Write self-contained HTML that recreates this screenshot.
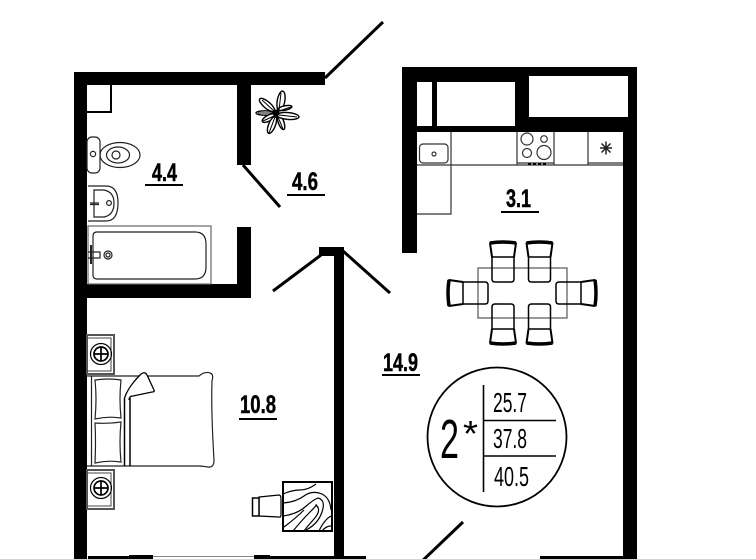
<!DOCTYPE html>
<html><head><meta charset="utf-8"><style>
html,body{margin:0;padding:0;background:#fff;width:756px;height:559px;overflow:hidden}
svg{display:block}
text{font-family:"Liberation Sans",sans-serif;fill:#000}
.b{font-weight:bold;font-size:25px;stroke:#000;stroke-width:.5px}
.n{font-size:28px}
</style></head><body>
<svg width="756" height="559" viewBox="0 0 756 559" xmlns="http://www.w3.org/2000/svg">
<!-- walls -->
<g fill="#000">
<rect x="74" y="72" width="251" height="13"/>
<rect x="74" y="72" width="13" height="487"/>
<rect x="237" y="85" width="14" height="80"/>
<rect x="237" y="227" width="14" height="71"/>
<rect x="87" y="284" width="164" height="14"/>
<rect x="319" y="247" width="25" height="9"/>
<rect x="334" y="247" width="10" height="312"/>
<rect x="402" y="67" width="235" height="65"/>
<rect x="402" y="67" width="15" height="186"/>
<rect x="623" y="67" width="14" height="492"/>
<rect x="88" y="556" width="65" height="3"/>
<rect x="129" y="555" width="24" height="4"/>
<rect x="254" y="555" width="16" height="4"/>
<rect x="254" y="556" width="112" height="3"/>
<rect x="540" y="556" width="97" height="3"/>
</g>
<rect x="153" y="556" width="101" height="1" fill="#888"/>
<g fill="#fff">
<rect x="417" y="82" width="15" height="44"/>
<rect x="437" y="82" width="78" height="44"/>
<rect x="529" y="76" width="99" height="41"/>
</g>
<!-- doors -->
<g stroke="#000" stroke-width="3" fill="none">
<line x1="325" y1="78" x2="383" y2="22"/>
<line x1="243" y1="165" x2="280" y2="207"/>
<line x1="273" y1="291" x2="321" y2="255"/>
<line x1="343" y1="251" x2="390" y2="293"/>
<line x1="463" y1="522" x2="418" y2="565"/>
</g>
<!-- bathroom -->
<path d="M87 112H111V85" fill="none" stroke="#000" stroke-width="2"/>
<g fill="none" stroke="#222" stroke-width="1.200">
<rect x="87" y="137" width="13" height="36" rx="5"/>
<circle cx="93" cy="154" r="2.600"/>
<ellipse cx="120" cy="155" rx="20" ry="12.500"/>
<ellipse cx="118" cy="155" rx="11.500" ry="8"/>
<circle cx="116" cy="155" r="4"/>
<path d="M88 186H106Q118 186 118 203Q118 221 106 221H88"/>
<path d="M94 190H104Q114 192 114 203Q114 215 104 217H94Z"/>
<circle cx="109" cy="203" r="2.400"/>
<path d="M90 203H99M90 204.500H99"/>
<rect x="88" y="226" width="123" height="58" stroke="#666"/>
<path d="M97 232H195Q206 232 206 244V267Q206 279 195 279H97Q93 279 93 275V236Q93 232 97 232Z"/>
<path d="M88 252H100V258H88"/>
<circle cx="108" cy="255" r="4"/>
<circle cx="108" cy="255" r="2"/>
<line x1="91" y1="245" x2="91" y2="264" stroke-width="2"/>
</g>
<!-- plant -->
<g transform="translate(276 113)" fill="#fff" stroke="#000" stroke-width="1.400">
<ellipse cx="5" cy="-12" rx="3.800" ry="10" transform="rotate(10 5 -12)"/>
<ellipse cx="-9" cy="-8" rx="3.400" ry="9.500" transform="rotate(-50 -9 -8)"/>
<ellipse cx="-11" cy="0" rx="9" ry="2.200"/>
<ellipse cx="-7" cy="5" rx="7.500" ry="3" transform="rotate(-28 -7 5)"/>
<ellipse cx="-4" cy="12" rx="3.400" ry="9" transform="rotate(22 -4 12)"/>
<ellipse cx="5" cy="9" rx="2.800" ry="8" transform="rotate(-20 5 9)"/>
<ellipse cx="12" cy="3" rx="11" ry="3.400" transform="rotate(5 12 3)"/>
<ellipse cx="9" cy="-5" rx="7" ry="2.200" transform="rotate(-12 9 -5)"/>
<path d="M5 -20L3 -3M-14 -13L-2 -2M-18 0H-3M-13 8L-2 3M-7 20L-1 4M7 16L2 4M21 4L3 2M15 -6L3 -2" stroke-width="1"/>
<circle cx="0" cy="0" r="2.800" fill="#000"/>
</g>
<!-- kitchen -->
<g fill="none" stroke="#333" stroke-width="1.200">
<path d="M417 165H623M451 132V214H417"/>
<rect x="419.500" y="144" width="28.500" height="19" rx="3.500"/>
<circle cx="434" cy="154" r="2"/>
<path d="M517 132V165M554 132V165M588 132V165M588 163H623"/>
<circle cx="527" cy="139" r="6"/>
<circle cx="544" cy="139" r="3.300"/>
<circle cx="527" cy="153" r="4.500"/>
<circle cx="544" cy="152.500" r="7"/>
<path d="M517 163H554"/>
</g>
<path d="M528 163h3v2h-3zM533 163h3v2h-3zM538 163h3v2h-3zM543 163h3v2h-3z" fill="#000"/>
<g transform="translate(606 148)" stroke="#222" stroke-width="1.500">
<path d="M-6 0H6M0 -6.500V6.500M-4.500 -4.500L4.500 4.500M-4.500 4.500L4.500 -4.500"/>
</g>
<!-- dining -->
<rect x="478" y="268" width="89" height="50" fill="none" stroke="#555" stroke-width="1.200"/>
<defs>
<g id="chair">
<path d="M3 15V37Q3 40 6 40H22Q25 40 25 37V15" fill="none" stroke="#000" stroke-width="1.500"/>
<path d="M1 1Q14 -1 27 1L25 15H3Z" fill="#fff" stroke="#000" stroke-width="1.500"/>
<path d="M1 1Q14 -1 27 1" fill="none" stroke="#000" stroke-width="3.500"/>
<path d="M1 1L3 15M27 1L25 15" fill="none" stroke="#000" stroke-width="2"/>
</g>
</defs>
<use href="#chair" transform="translate(489 242)"/>
<use href="#chair" transform="translate(525.500 242)"/>
<use href="#chair" transform="translate(489 344) scale(1 -1)"/>
<use href="#chair" transform="translate(525.500 344) scale(1 -1)"/>
<use href="#chair" transform="translate(448 307) rotate(-90)"/>
<use href="#chair" transform="translate(596 279) rotate(90)"/>
<!-- nightstands -->
<g fill="none" stroke="#555" stroke-width="2">
<rect x="87" y="335" width="27" height="39"/>
<path d="M87 338H111V371H87" stroke="#444" stroke-width="1"/>
<rect x="87" y="470" width="27" height="39"/>
<path d="M87 473H111V506H87" stroke="#444" stroke-width="1"/>
</g>
<g fill="none" stroke="#000">
<circle cx="101" cy="354" r="10.500" stroke-width="1.200"/>
<circle cx="101" cy="354" r="7" stroke-width="1.700"/>
<path d="M94 354H108M101 347V361" stroke-width="1.700"/>
<circle cx="101" cy="488" r="10.500" stroke-width="1.200"/>
<circle cx="101" cy="488" r="7" stroke-width="1.700"/>
<path d="M94 488H108M101 481V495" stroke-width="1.700"/>
</g>
<!-- bed -->
<g fill="none" stroke="#222" stroke-width="1.200">
<path d="M87 376H199Q205 371 210 373Q214 374 212 381Q211 410 214 460Q214 468 208 467Q202 466 198 466H87"/>
<path d="M91.500 376V466"/>
<path d="M95 380Q109 378 121 380Q119 399 121 418Q108 416 95 419Q97 399 95 380Z"/>
<path d="M95 423Q108 424 121 422Q119 442 121 462Q108 460 95 463Q96 442 95 423Z"/>
<path d="M124.500 398V466M130 398V466" stroke="#000" stroke-width="1.500"/>
<path d="M124.500 398Q128 387 141 374Q145 371 147 375L154 390Q155 392 152 392L133 396Q129 396 129 400" fill="#fff" stroke="#000" stroke-width="1.300"/>
</g>
<!-- desk & seat -->
<rect x="283" y="482" width="49" height="49" fill="#fff" stroke="#000" stroke-width="2"/>
<g fill="none" stroke="#000" stroke-width="1.200">
<path d="M283 494Q292 490 300 490T316 484"/>
<path d="M283 503Q296 502 304 496T322 494Q330 498 331 510"/>
<path d="M283 516Q297 514 305 507T318 498Q326 500 322 512T306 530"/>
<path d="M293 531Q302 520 310 512T316 505Q322 510 314 519T304 531"/>
<path d="M284 527Q296 518 304 510"/>
<path d="M331 516Q324 520 319 531M331 526Q326 526 322 531"/>
<path d="M259 497L279 495Q281 495 281 499V514Q281 518 279 517L259 516Z"/>
</g>
<rect x="252.500" y="498" width="6.500" height="18" fill="#fff" stroke="#000" stroke-width="1.500"/>
<!-- labels -->
<text class="b" x="152" y="181" textLength="25" lengthAdjust="spacingAndGlyphs">4.4</text>
<rect x="145" y="184" width="38" height="2"/>
<text class="b" x="292" y="190" textLength="26" lengthAdjust="spacingAndGlyphs">4.6</text>
<rect x="287" y="194" width="38" height="2"/>
<text class="b" x="506" y="207" textLength="25" lengthAdjust="spacingAndGlyphs">3.1</text>
<rect x="501" y="211" width="38" height="2"/>
<text class="b" x="240" y="413" textLength="36" lengthAdjust="spacingAndGlyphs">10.8</text>
<rect x="239" y="418" width="38" height="2"/>
<text class="b" x="383" y="371" textLength="35" lengthAdjust="spacingAndGlyphs">14.9</text>
<rect x="382" y="374" width="38" height="2"/>
<!-- badge -->
<circle cx="497" cy="437" r="69.500" fill="none" stroke="#000" stroke-width="1.800"/>
<path d="M483.500 385V492M483 420.500H556M483 456H556" stroke="#000" stroke-width="1.600" fill="none"/>
<text x="440" y="458" font-size="55" textLength="19" lengthAdjust="spacingAndGlyphs">2</text>
<text x="463" y="446" font-size="36" textLength="15" lengthAdjust="spacingAndGlyphs">*</text>
<text class="n" x="493" y="412" textLength="34" lengthAdjust="spacingAndGlyphs">25.7</text>
<text class="n" x="493" y="448" textLength="34" lengthAdjust="spacingAndGlyphs">37.8</text>
<text class="n" x="494" y="486" textLength="35" lengthAdjust="spacingAndGlyphs">40.5</text>
</svg>
</body></html>
